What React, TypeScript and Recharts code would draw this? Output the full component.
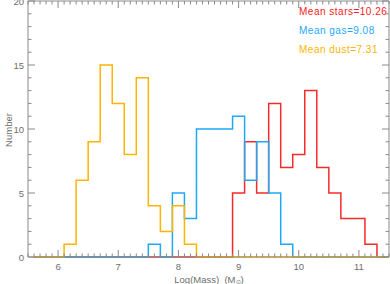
import React from 'react';
import { LineChart, Line, XAxis, YAxis } from 'recharts';

// left edges of the 0.2-wide bins (5.7 ... 11.3)
const binStarts = [
    5.7, 5.9, 6.1, 6.3, 6.5, 6.7, 6.9, 7.1, 7.3, 7.5, 7.7, 7.9, 8.1, 8.3, 8.5,
    8.7, 8.9, 9.1, 9.3, 9.5, 9.7, 9.9, 10.1, 10.3, 10.5, 10.7, 10.9, 11.1, 11.3
];
const starsCounts = [0, 0, 0, 0, 0, 0, 0, 0, 0, 0, 0, 0, 0, 0, 0, 0, 5, 9, 5, 12, 7, 8, 13, 7, 5, 3, 3, 1, 0];
const gasCounts = [0, 0, 0, 0, 0, 0, 0, 0, 0, 1, 0, 5, 3, 10, 10, 10, 11, 6, 9, 5, 1, 0, 0, 0, 0, 0, 0, 0, 0];
const dustCounts = [0, 0, 1, 6, 9, 15, 12, 8, 14, 4, 2, 4, 1, 0, 0, 0, 0, 0, 0, 0, 0, 0, 0, 0, 0, 0, 0, 0, 0];

const histStart = 5.6;
const histEnd = 11.5;

const xMajorTicks = [6, 7, 8, 9, 10, 11];
const yMajorTicks = [0, 5, 10, 15, 20];

const legendLines = [
    { text: 'Mean stars=10.26', color: '#ff1a1a' },
    { text: 'Mean gas=9.08', color: '#1ea8ff' },
    { text: 'Mean dust=7.31', color: '#ffb400' }
];

const STARS = '#f52a2a';
const GAS = '#1ea8f5';
const DUST = '#ffb400';
const AXIS = '#8a8a8a';
const LABEL = '#6e6e6e';
const FONT = '"Liberation Sans", Arial, sans-serif';

// stepAfter rows: leading zero edge, one row per bin, trailing edge repeating last value
const chartData = [
    { x: histStart, stars: 0, gas: 0, dust: 0 },
    ...binStarts.map((x, i) => ({ x, stars: starsCounts[i], gas: gasCounts[i], dust: dustCounts[i] })),
    {
        x: histEnd,
        stars: starsCounts[starsCounts.length - 1],
        gas: gasCounts[gasCounts.length - 1],
        dust: dustCounts[dustCounts.length - 1]
    }
];

// minor ticks every 0.1 in x, every 1 in y
const xTicks = Array.from({ length: 61 }, (_, i) => Math.round(55 + i) / 10);
const yTicks = Array.from({ length: 21 }, (_, i) => i);

const isMajorX = (v: number) => xMajorTicks.some(t => Math.abs(t - v) < 1e-6);
const isMajorY = (v: number) => yMajorTicks.includes(v);

const XTick = (props: any) => {
    const { x, y, payload, top } = props;
    const major = isMajorX(payload.value);
    const len = major ? 7 : 3.5;
    return (
        <g>
            <line x1={x} x2={x} y1={y} y2={top ? y + len : y - len} stroke={AXIS} strokeWidth={1} />
            {!top && major && (
                <text x={x} y={y + 13} textAnchor="middle" fill={LABEL} fontSize={9.5} fontFamily={FONT}>
                    {payload.value}
                </text>
            )}
        </g>
    );
};

const YTick = (props: any) => {
    const { x, y, payload, right } = props;
    const major = isMajorY(payload.value);
    const len = major ? 7 : 3.5;
    return (
        <g>
            <line x1={x} x2={right ? x - len : x + len} y1={y} y2={y} stroke={AXIS} strokeWidth={1} />
            {!right && major && (
                <text x={x - 4} y={y + 3.5} textAnchor="end" fill={LABEL} fontSize={9.5} fontFamily={FONT}>
                    {payload.value}
                </text>
            )}
        </g>
    );
};

export default function App() {
    return (
        <div style={{ position: 'absolute', left: 0, top: 0, width: 390, height: 284, background: '#fff' }}>
            <LineChart width={390} height={284} data={chartData} margin={{ top: 0, right: 0, bottom: 0, left: 0 }}>
                <XAxis
                    dataKey="x"
                    type="number"
                    domain={[5.5, 11.5]}
                    ticks={xTicks}
                    interval={0}
                    height={27}
                    tickSize={0}
                    tickMargin={0}
                    tickLine={false}
                    axisLine={{ stroke: AXIS }}
                    tick={(p: any) => <XTick {...p} top={false} />}
                />
                <XAxis
                    xAxisId="top"
                    orientation="top"
                    dataKey="x"
                    type="number"
                    domain={[5.5, 11.5]}
                    ticks={xTicks}
                    interval={0}
                    height={1}
                    tickSize={0}
                    tickMargin={0}
                    tickLine={false}
                    axisLine={{ stroke: AXIS }}
                    tick={(p: any) => <XTick {...p} top={true} />}
                />
                <YAxis
                    type="number"
                    domain={[0, 20]}
                    ticks={yTicks}
                    interval={0}
                    width={28}
                    tickSize={0}
                    tickMargin={0}
                    tickLine={false}
                    axisLine={{ stroke: AXIS }}
                    tick={(p: any) => <YTick {...p} right={false} />}
                />
                <YAxis
                    yAxisId="right"
                    orientation="right"
                    type="number"
                    domain={[0, 20]}
                    ticks={yTicks}
                    interval={0}
                    width={1}
                    tickSize={0}
                    tickMargin={0}
                    tickLine={false}
                    axisLine={{ stroke: AXIS }}
                    tick={(p: any) => <YTick {...p} right={true} />}
                />
                <Line xAxisId="top" yAxisId="right" dataKey="dust" stroke="none" dot={false} activeDot={false} isAnimationActive={false} />
                <Line type="stepAfter" dataKey="stars" stroke={STARS} strokeWidth={1.5} dot={false} isAnimationActive={false} />
                <Line type="stepAfter" dataKey="gas" stroke={GAS} strokeWidth={1.5} dot={false} isAnimationActive={false} />
                <Line type="stepAfter" dataKey="dust" stroke={DUST} strokeWidth={1.5} dot={false} isAnimationActive={false} />
            </LineChart>

            <div style={{ position: 'absolute', left: 299, top: 2, fontFamily: FONT, fontSize: 10, letterSpacing: 0.5, lineHeight: '19px' }}>
                {legendLines.map(l => (
                    <div key={l.text} style={{ color: l.color, whiteSpace: 'nowrap' }}>{l.text}</div>
                ))}
            </div>

            <div
                style={{
                    position: 'absolute',
                    left: 8,
                    top: 130,
                    transform: 'translate(-50%, -50%) rotate(-90deg)',
                    fontFamily: FONT,
                    fontSize: 9.5,
                    color: LABEL,
                    whiteSpace: 'nowrap'
                }}
            >
                Number
            </div>

            <div
                style={{
                    position: 'absolute',
                    left: 209,
                    top: 278.5,
                    transform: 'translate(-50%, -50%)',
                    fontFamily: FONT,
                    fontSize: 9.5,
                    lineHeight: '9px',
                    color: LABEL,
                    whiteSpace: 'nowrap'
                }}
            >
                Log(Mass)&nbsp; (M<sub style={{ fontSize: 6, lineHeight: 0, verticalAlign: '-1px' }}>⊙</sub>)
            </div>
        </div>
    );
}
